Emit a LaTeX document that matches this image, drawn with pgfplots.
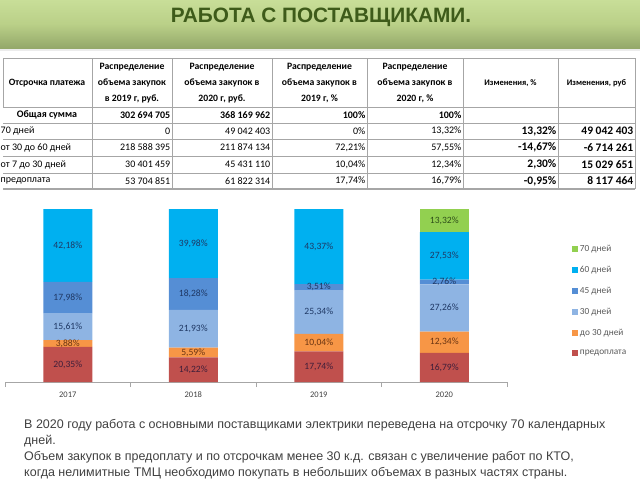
\documentclass[border=0pt]{standalone}
\usepackage{pgfplots}
\pgfplotsset{compat=1.18}
\usepackage{fontspec}
\setmainfont{Carlito}
\newfontfamily\arial{Liberation Sans}
\definecolor{cRed}{HTML}{C0504D}
\definecolor{cOrange}{HTML}{F79646}
\definecolor{cLB}{HTML}{8EB4E3}
\definecolor{cMB}{HTML}{558ED5}
\definecolor{cCyan}{HTML}{00B0F0}
\definecolor{cGreen}{HTML}{92D050}
\definecolor{tNavy}{HTML}{1F3864}
\definecolor{tRed}{HTML}{3F1F3A}
\definecolor{tOr}{HTML}{6B3512}
\definecolor{tGr}{HTML}{2F4F1A}
\definecolor{gridc}{HTML}{A6A6A6}
\definecolor{titlec}{HTML}{3E5B1A}
\newcommand{\cellR}[3]{\node[anchor=east,inner sep=0pt] at (#1,#2) {#3};}
\pgfplotsset{chartpos/.style={at={(5pt,-382pt)}, anchor=south west,
  scale only axis, width=502pt, height=173pt,
  xmin=-0.5, xmax=3.5, ymin=0, ymax=100, clip=false}}
\begin{document}
\begin{tikzpicture}
\begin{scope}[x=1pt,y=-1pt]
\path[use as bounding box] (0,0) rectangle (640,480);
% banner
\fill[gray!15] (0,47) rectangle (640,51);
\shade[top color={rgb,255:red,200;green,222;blue,152}, bottom color={rgb,255:red,148;green,168;blue,106}, middle color={rgb,255:red,186;green,208;blue,136}] (0,0) rectangle (640,48);
\node[font=\arial\bfseries\fontsize{20.8}{22}\selectfont, text=titlec] at (321,17) {РАБОТА С ПОСТАВЩИКАМИ.};
% table
\begin{scope}[draw=gridc, line width=0.6pt]
\foreach \yy in {58,107,123,139,156,173} {\draw (3,\yy) -- (635,\yy);}
\draw[gray!70, line width=1.2pt] (3,189) -- (635,189);
\draw (3,58) -- (3,107);
\foreach \xx in {92,172,272,367,463,558,635} {\draw (\xx,58) -- (\xx,189);}
\end{scope}
\begin{scope}[every node/.style={inner sep=0pt, align=center, font=\bfseries\fontsize{9.7}{16}\selectfont}]
\node at (47,83) {Отсрочка платежа};
\node at (132,83) {Распределение\\объема закупок\\в 2019 г, руб.};
\node at (222,83) {Распределение\\объема закупок в\\2020 г, руб.};
\node at (319.5,83) {Распределение\\объема закупок в\\2019 г, \%};
\node at (415,83) {Распределение\\объема закупок в\\2020 г, \%};
\node[font=\bfseries\fontsize{8.5}{10}\selectfont] at (510.5,83) {Изменения, \%};
\node[font=\bfseries\fontsize{8.5}{10}\selectfont] at (596.5,83) {Изменения, руб};
\end{scope}
\begin{scope}[every node/.style={font=\fontsize{10}{12}\selectfont}]
\node[font=\bfseries\fontsize{10}{12}\selectfont, inner sep=0pt] at (47,115) {Общая сумма};
\node[anchor=west,inner sep=0pt] at (0.5,131) {70 дней};
\node[anchor=west,inner sep=0pt] at (0.5,147.5) {от 30 до 60 дней};
\node[anchor=west,inner sep=0pt] at (0.5,164.5) {от 7 до 30 дней};
\node[anchor=west,inner sep=0pt] at (0.5,181) {предоплата};
\end{scope}
\begin{scope}[every node/.style={font=\fontsize{10}{12}\selectfont}]
\node[anchor=east,inner sep=0pt,font=\bfseries\fontsize{10}{12}\selectfont] at (170.5,115) {302 694 705};
\node[anchor=east,inner sep=0pt,font=\bfseries\fontsize{10}{12}\selectfont] at (270.5,115) {368 169 962};
\node[anchor=east,inner sep=0pt,font=\bfseries\fontsize{10}{12}\selectfont] at (365.5,115) {100\%};
\node[anchor=east,inner sep=0pt,font=\bfseries\fontsize{10}{12}\selectfont] at (461.5,115) {100\%};
\cellR{170.5}{131}{0}
\cellR{270.5}{131}{49 042 403}
\cellR{365.5}{131}{0\%}
\cellR{461.5}{131}{13,32\%}
\cellR{170.5}{147.5}{218 588 395}
\cellR{270.5}{147.5}{211 874 134}
\cellR{365.5}{147.5}{72,21\%}
\cellR{461.5}{147.5}{57,55\%}
\cellR{170.5}{164.5}{30 401 459}
\cellR{270.5}{164.5}{45 431 110}
\cellR{365.5}{164.5}{10,04\%}
\cellR{461.5}{164.5}{12,34\%}
\cellR{170.5}{181}{53 704 851}
\cellR{270.5}{181}{61 822 314}
\cellR{365.5}{181}{17,74\%}
\cellR{461.5}{181}{16,79\%}
\end{scope}
\begin{scope}[every node/.style={font=\bfseries\fontsize{11.5}{13}\selectfont}]
\cellR{556.5}{131}{13,32\%}
\cellR{633.5}{131}{49 042 403}
\cellR{556.5}{147.5}{-14,67\%}
\cellR{633.5}{147.5}{-6 714 261}
\cellR{556.5}{164.5}{2,30\%}
\cellR{633.5}{164.5}{15 029 651}
\cellR{556.5}{181}{-0,95\%}
\cellR{633.5}{181}{8 117 464}
\end{scope}
% text
\node[anchor=north west, inner sep=0pt, align=left, text=black!75, font=\arial\fontsize{12.5}{16}\selectfont] at (24,419)
{В 2020 году работа с основными поставщиками электрики переведена на отсрочку 70 календарных\\
дней.\\
Объем закупок в предоплату и по отсрочкам менее 30 к.д. связан с увеличение работ по КТО,\\
когда нелимитные ТМЦ необходимо покупать в небольших объемах в разных частях страны.};
\end{scope}
% chart
\begin{axis}[
  chartpos,
  ybar stacked, bar width=49pt,
  axis x line*=bottom, axis y line=none,
  x axis line style={draw=gridc, line width=0.6pt, -},
  xtick={-0.5,0.5,1.5,2.5,3.5}, xticklabels={},
  major tick length=5pt, tick align=outside,
  tick style={draw=gridc, line width=0.6pt},
  extra x ticks={0,1,2,3}, extra x tick labels={2017,2018,2019,2020},
  extra x tick style={major tick length=0pt},
  xticklabel style={font=\fontsize{8.5}{10}\selectfont, text=black!75, yshift=-6pt},
  ytick=\empty,
  reverse legend,
  legend image code/.code={\draw[#1,draw=none] (0pt,-3pt) rectangle (6pt,3pt);},
  legend style={at={(1.129,0.805)}, anchor=north west, draw=none, fill=none,
    font=\fontsize{9.3}{10}\selectfont, text=black!65, row sep=9.3pt, inner sep=0pt},
  legend cell align=left,
]
\addplot[fill=cRed, draw=none] coordinates {(0,20.35) (1,14.22) (2,17.74) (3,16.79)};
\addplot[fill=cOrange, draw=none] coordinates {(0,3.88) (1,5.59) (2,10.04) (3,12.34)};
\addplot[fill=cLB, draw=none] coordinates {(0,15.61) (1,21.93) (2,25.34) (3,27.26)};
\addplot[fill=cMB, draw=none] coordinates {(0,17.98) (1,18.28) (2,3.51) (3,2.76)};
\addplot[fill=cCyan, draw=none] coordinates {(0,42.18) (1,39.98) (2,43.37) (3,27.53)};
\addplot[fill=cGreen, draw=none] coordinates {(0,0) (1,0) (2,0) (3,13.32)};
\legend{предоплата, до 30 дней, 30 дней, 45 дней, 60 дней, 70 дней}
\end{axis}
% segment labels (at segment midpoints)
\begin{axis}[
  chartpos, hide axis,
  nodes near coords, point meta=explicit symbolic,
  nodes near coords align=center,
  every node near coord/.append style={font=\fontsize{9.6}{10}\selectfont, inner sep=0pt, anchor=center},
]
\addplot[draw=none, mark=none, every node near coord/.append style={text=tRed}] coordinates {
 (0,10.175) [20,35\%] (1,7.11) [14,22\%] (2,8.87) [17,74\%] (3,8.395) [16,79\%]};
\addplot[draw=none, mark=none, every node near coord/.append style={text=tOr}] coordinates {
 (0,22.29) [3,88\%] (1,17.015) [5,59\%] (2,22.76) [10,04\%] (3,22.96) [12,34\%]};
\addplot[draw=none, mark=none, every node near coord/.append style={text=tNavy}] coordinates {
 (0,32.035) [15,61\%] (1,30.775) [21,93\%] (2,40.45) [25,34\%] (3,42.76) [27,26\%]
 (0,48.83) [17,98\%] (1,50.88) [18,28\%] (2,54.875) [3,51\%] (3,57.77) [2,76\%]
 (0,78.91) [42,18\%] (1,80.01) [39,98\%] (2,78.315) [43,37\%] (3,72.915) [27,53\%]};
\addplot[draw=none, mark=none, every node near coord/.append style={text=tGr}] coordinates {
 (3,93.34) [13,32\%]};
\end{axis}
\end{tikzpicture}
\end{document}
